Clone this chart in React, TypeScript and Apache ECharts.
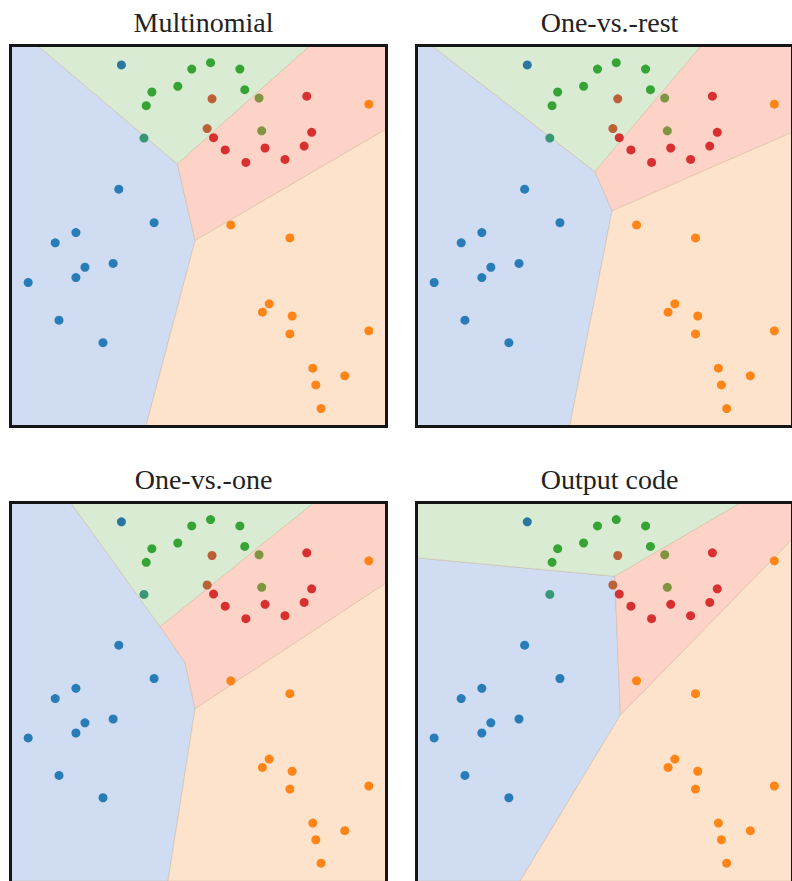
import React, { useEffect, useRef } from "react";
import * as echarts from "echarts";

// ---- data (feature space 0..10 on both axes) ----
const panelTitles = ["Multinomial", "One-vs.-rest", "One-vs.-one", "Output code"];

const pointsBlue = [[2.88, 6.23], [3.82, 5.35], [1.74, 5.09], [1.19, 4.82], [1.98, 4.18], [2.73, 4.28], [1.74, 3.91], [0.47, 3.78], [1.29, 2.79], [2.46, 2.2]];
const pointsBlueDark = [[2.95, 9.49]];
const pointsGreen = [[4.82, 9.38], [5.32, 9.55], [6.1, 9.38], [3.76, 8.78], [4.45, 8.93], [6.23, 8.84], [3.61, 8.42]];
const pointsTeal = [[3.55, 7.57]];
const pointsBrown = [[5.36, 8.6], [5.23, 7.82]];
const pointsOlive = [[6.61, 8.62], [6.68, 7.76]];
const pointsRed = [[7.88, 8.67], [8.01, 7.72], [5.4, 7.58], [5.71, 7.26], [6.77, 7.31], [7.81, 7.36], [6.26, 6.93], [7.3, 7.01]];
const pointsOrange = [[9.53, 8.46], [5.86, 5.29], [7.43, 4.95], [6.88, 3.22], [6.7, 3.0], [7.49, 2.9], [7.43, 2.43], [9.53, 2.51], [8.04, 1.53], [8.89, 1.33], [8.12, 1.09], [8.26, 0.47]];

// decision regions (polygons), per panel
const multinomialBlue = [[0, 10], [0.72, 10], [4.44, 6.89], [4.91, 4.88], [3.6, 0], [0, 0]];
const multinomialGreen = [[0.72, 10], [7.97, 10], [4.44, 6.89]];
const multinomialRed = [[7.97, 10], [10, 10], [10, 7.81], [4.91, 4.88], [4.44, 6.89]];
const multinomialOrange = [[10, 7.81], [10, 0], [3.6, 0], [4.91, 4.88]];

const ovrBlue = [[0, 10], [0.4, 10], [4.75, 6.69], [5.21, 5.66], [4.08, 0], [0, 0]];
const ovrGreen = [[0.4, 10], [7.59, 10], [4.75, 6.69]];
const ovrRed = [[7.59, 10], [10, 10], [10, 7.72], [5.21, 5.66], [4.75, 6.69]];
const ovrOrange = [[10, 7.72], [10, 0], [4.08, 0], [5.21, 5.66]];

const ovoBlue = [[0, 10], [1.6, 10], [3.98, 6.72], [4.64, 5.78], [4.91, 4.55], [4.19, 0], [0, 0]];
const ovoGreen = [[1.6, 10], [8.08, 10], [3.98, 6.72]];
const ovoRed = [[8.08, 10], [10, 10], [10, 7.88], [4.91, 4.55], [4.64, 5.78], [3.98, 6.72]];
const ovoOrange = [[10, 7.88], [10, 0], [4.19, 0], [4.91, 4.55]];

const ocBlue = [[0, 0], [0, 8.54], [5.28, 8.05], [5.43, 4.38], [2.76, 0]];
const ocGreen = [[0, 8.54], [0, 10], [8.65, 10], [5.28, 8.05]];
const ocRed = [[5.28, 8.05], [8.65, 10], [10, 10], [10, 9.02], [5.43, 4.38]];
const ocOrange = [[10, 9.02], [10, 0], [2.76, 0], [5.43, 4.38]];

const panelRegions = [
  [multinomialBlue, multinomialGreen, multinomialRed, multinomialOrange],
  [ovrBlue, ovrGreen, ovrRed, ovrOrange],
  [ovoBlue, ovoGreen, ovoRed, ovoOrange],
  [ocBlue, ocGreen, ocRed, ocOrange],
];

// ---- styles / layout ----
const regionColors = ["#d0dcf1", "#d9ebd3", "#fcd3c6", "#fde3cc"];
const pointSets = [
  { data: pointsBlue, color: "#1f77b4" },
  { data: pointsBlueDark, color: "#21709c" },
  { data: pointsGreen, color: "#2ca02c" },
  { data: pointsTeal, color: "#2e9470" },
  { data: pointsBrown, color: "#bb5a2e" },
  { data: pointsOlive, color: "#78913a" },
  { data: pointsRed, color: "#d62728" },
  { data: pointsOrange, color: "#ff7f0e" },
];

const PW = 376;
const PH = 381;
const gridPos = [
  { left: 10.5, top: 45.5 },
  { left: 416.5, top: 45.5 },
  { left: 10.5, top: 502.5 },
  { left: 416.5, top: 502.5 },
];

export default function App() {
  const ref = useRef<HTMLDivElement>(null);
  useEffect(() => {
    document.body.style.margin = "0";
    if (!ref.current) return;
    const chart = echarts.init(ref.current, null, { renderer: "svg" });

    const grid = gridPos.map((g) => ({ left: g.left, top: g.top, width: PW, height: PH, containLabel: false }));
    const xAxis = gridPos.map((_, i) => ({ type: "value", gridIndex: i, min: 0, max: 10, show: false }));
    const yAxis = gridPos.map((_, i) => ({ type: "value", gridIndex: i, min: 0, max: 10, show: false }));

    const series: any[] = [];
    panelRegions.forEach((regions, pi) => {
      series.push({
        type: "custom",
        xAxisIndex: pi,
        yAxisIndex: pi,
        silent: true,
        clip: true,
        data: regions.map((_, ri) => [ri, 0]),
        renderItem: (params: any, api: any) => {
          const ri = params.dataIndex;
          const pts = regions[ri].map((p) => api.coord(p));
          return {
            type: "polygon",
            shape: { points: pts },
            style: { fill: regionColors[ri], stroke: "rgba(190,160,120,0.3)", lineWidth: 1 },
          };
        },
      });
      pointSets.forEach((ps) => {
        series.push({
          type: "scatter",
          xAxisIndex: pi,
          yAxisIndex: pi,
          symbolSize: 9,
          silent: true,
          itemStyle: { color: ps.color, opacity: 0.95 },
          data: ps.data,
        });
      });
    });

    const title = panelTitles.map((t, i) => ({
      text: t,
      left: gridPos[i].left + PW / 2,
      top: gridPos[i].top - 42,
      textAlign: "center",
      textStyle: { fontFamily: "Liberation Serif", fontSize: 28, fontWeight: "normal", color: "#222" },
    }));

    const graphic = gridPos.map((g) => ({
      type: "rect",
      z: 100,
      silent: true,
      shape: { x: g.left, y: g.top, width: PW, height: PH },
      style: { fill: "none", stroke: "#151515", lineWidth: 3 },
    }));

    chart.setOption({
      animation: false,
      backgroundColor: "#ffffff",
      title,
      grid,
      xAxis,
      yAxis,
      series,
      graphic,
    });
    return () => chart.dispose();
  }, []);
  return <div ref={ref} style={{ width: 792, height: 881 }} />;
}
